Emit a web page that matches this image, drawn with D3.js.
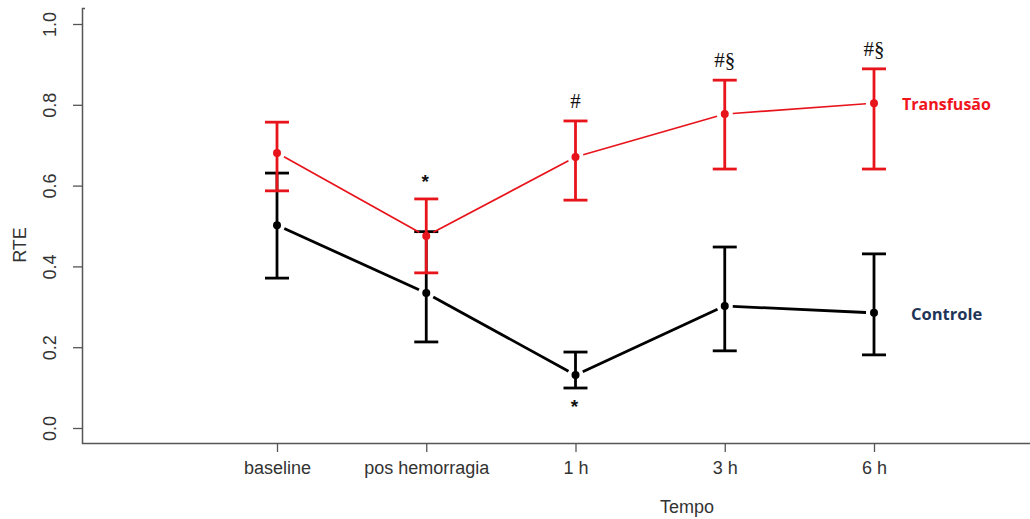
<!DOCTYPE html>
<html>
<head>
<meta charset="utf-8">
<script src="https://cdn.jsdelivr.net/npm/d3@7"></script>
<style>
  body { margin: 0; background: #fff; }
  svg { display: block; }
</style>
</head>
<body>
<svg id="chart" width="1030" height="519"></svg>
<script>
// Time points on the x axis
const categories = ["baseline", "pos hemorragia", "1 h", "3 h", "6 h"];

// Transfusão group: mean and error-bar limits
const transfusaoMean  = [0.681, 0.475, 0.671, 0.777, 0.804];
const transfusaoUpper = [0.757, 0.567, 0.760, 0.861, 0.889];
const transfusaoLower = [0.587, 0.384, 0.564, 0.641, 0.641];

// Controle group: mean and error-bar limits
const controleMean  = [0.502, 0.334, 0.131, 0.302, 0.285];
const controleUpper = [0.631, 0.486, 0.188, 0.448, 0.431];
const controleLower = [0.371, 0.213, 0.099, 0.191, 0.181];

// Significance markers (text, group, placement)
const marks = [
  { i: 1, text: "*",  group: "t", side: "above" },
  { i: 2, text: "#",  group: "t", side: "above" },
  { i: 3, text: "#§", group: "t", side: "above" },
  { i: 4, text: "#§", group: "t", side: "above" },
  { i: 2, text: "*",  group: "c", side: "below" }
];

const yTicks = [0.0, 0.2, 0.4, 0.6, 0.8, 1.0];

const svg = d3.select("#chart");

const x = d3.scalePoint().domain(categories).range([277, 874]);
const y = d3.scaleLinear().domain([0, 1]).range([428, 24]);

const axisColor = "#555";
const textColor = "#333";
const sans = "Liberation Sans, Arial, sans-serif";

// Y axis
const yAxis = svg.append("g")
  .attr("transform", "translate(82,0)")
  .call(d3.axisLeft(y).tickValues(yTicks).tickFormat(d3.format(".1f")).tickSize(9).tickSizeOuter(0));
yAxis.select(".domain").remove();
yAxis.selectAll(".tick line").attr("stroke", axisColor).attr("stroke-width", 1.3);
yAxis.selectAll(".tick text")
  .attr("fill", textColor)
  .attr("font-family", sans)
  .attr("font-size", 18)
  .attr("x", null)
  .attr("text-anchor", "middle")
  .attr("transform", "translate(-32,0) rotate(-90)")
  .attr("dy", "0.35em");

// Frame lines: left and bottom
svg.append("path")
  .attr("d", "M85,8.5H82.5V443.5H1030")
  .attr("fill", "none")
  .attr("stroke", axisColor)
  .attr("stroke-width", 1.5);

// X axis ticks and labels
const xAxis = svg.append("g")
  .attr("transform", "translate(0,443)")
  .call(d3.axisBottom(x).tickSize(9).tickSizeOuter(0));
xAxis.select(".domain").remove();
xAxis.selectAll(".tick line").attr("stroke", axisColor).attr("stroke-width", 1.3);
xAxis.selectAll(".tick text")
  .attr("fill", textColor)
  .attr("font-family", sans)
  .attr("font-size", 18)
  .attr("y", 18);

// Axis titles
svg.append("text")
  .attr("x", 687).attr("y", 513)
  .attr("text-anchor", "middle")
  .attr("fill", textColor)
  .attr("font-family", sans)
  .attr("font-size", 18)
  .text("Tempo");

svg.append("text")
  .attr("transform", "translate(26,245) rotate(-90)")
  .attr("text-anchor", "middle")
  .attr("fill", textColor)
  .attr("font-family", sans)
  .attr("font-size", 18)
  .text("RTE");

// Draw one series: gapped connecting segments, error bars, points
function drawSeries(mean, upper, lower, color, lineWidth, barWidth) {
  const g = svg.append("g");
  const gap = 8;
  for (let i = 0; i < mean.length - 1; i++) {
    const x1 = x(categories[i]), y1 = y(mean[i]);
    const x2 = x(categories[i + 1]), y2 = y(mean[i + 1]);
    const len = Math.hypot(x2 - x1, y2 - y1);
    const ux = (x2 - x1) / len, uy = (y2 - y1) / len;
    g.append("line")
      .attr("x1", x1 + ux * gap).attr("y1", y1 + uy * gap)
      .attr("x2", x2 - ux * gap).attr("y2", y2 - uy * gap)
      .attr("stroke", color).attr("stroke-width", lineWidth);
  }
  const cap = 12;
  categories.forEach((c, i) => {
    const cx = x(c);
    g.append("line")
      .attr("x1", cx).attr("x2", cx)
      .attr("y1", y(upper[i])).attr("y2", y(lower[i]))
      .attr("stroke", color).attr("stroke-width", barWidth);
    [upper[i], lower[i]].forEach(v => {
      g.append("line")
        .attr("x1", cx - cap).attr("x2", cx + cap)
        .attr("y1", y(v)).attr("y2", y(v))
        .attr("stroke", color).attr("stroke-width", barWidth);
    });
    g.append("circle")
      .attr("cx", cx).attr("cy", y(mean[i]))
      .attr("r", 4).attr("fill", color);
  });
}

drawSeries(controleMean, controleUpper, controleLower, "#000", 2.8, 2.8);
drawSeries(transfusaoMean, transfusaoUpper, transfusaoLower, "#e8141b", 1.7, 2.8);

// Significance markers
marks.forEach(m => {
  const up = m.group === "t" ? transfusaoUpper : controleUpper;
  const lo = m.group === "t" ? transfusaoLower : controleLower;
  const star = m.text === "*";
  const yy = m.side === "above" ? y(up[m.i]) - (star ? 11 : 13) : y(lo[m.i]) + (star ? 25 : 20);
  svg.append("text")
    .attr("x", x(categories[m.i]) + (star ? -1 : 0))
    .attr("y", yy)
    .attr("text-anchor", "middle")
    .attr("fill", "#111")
    .attr("font-family", star ? sans : "Liberation Serif, Times New Roman, serif")
    .attr("font-weight", star ? "bold" : "normal")
    .attr("font-size", star ? 19 : 21)
    .text(m.text);
});

// Series labels
svg.append("text")
  .attr("x", 902).attr("y", 110)
  .attr("fill", "#f0141c")
  .attr("font-family", "Open Sans, Liberation Sans, sans-serif")
  .attr("font-weight", "bold")
  .attr("font-size", 16)
  .text("Transfusão");

svg.append("text")
  .attr("x", 911).attr("y", 320)
  .attr("fill", "#1f3558")
  .attr("font-family", "Open Sans, Liberation Sans, sans-serif")
  .attr("font-weight", "bold")
  .attr("font-size", 16.5)
  .text("Controle");
</script>
</body>
</html>
